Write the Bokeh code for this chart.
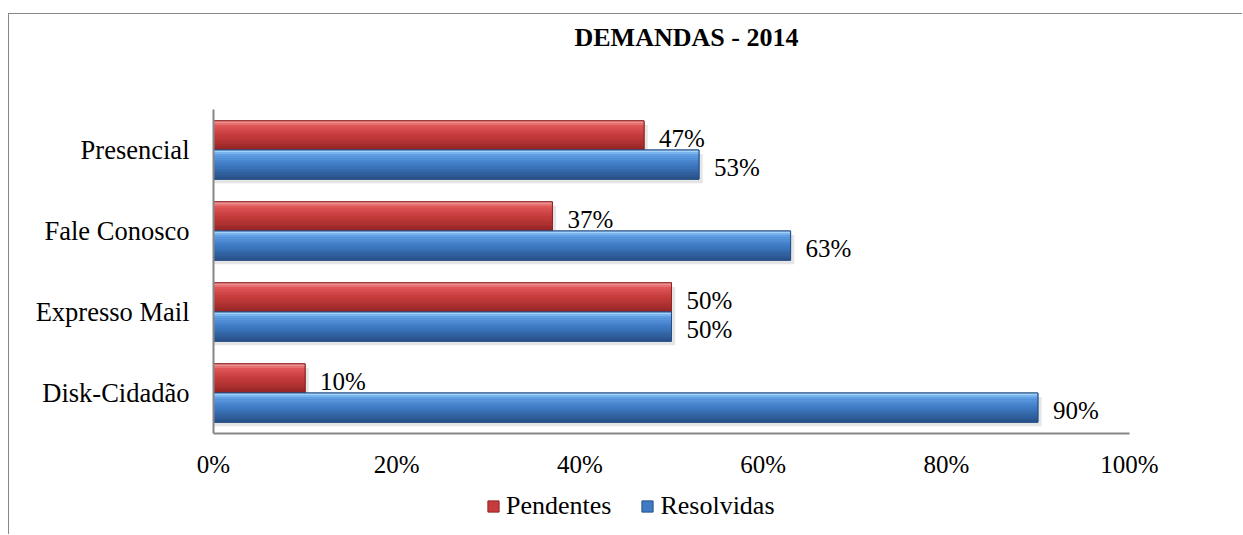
from bokeh.plotting import figure
from bokeh.layouts import column
from bokeh.models import Legend, LegendItem, ColumnDataSource, FixedTicker, Range1d
from bokeh.core.properties import value
from bokeh.embed import file_html
from bokeh.resources import INLINE

# ---- data ----
categories = ["Disk-Cidadão", "Expresso Mail", "Fale Conosco", "Presencial"]
pendentes = [0.10, 0.50, 0.37, 0.47]
resolvidas = [0.90, 0.50, 0.63, 0.53]
series_names = ["Pendentes", "Resolvidas"]
x_ticks = [0, 0.2, 0.4, 0.6, 0.8, 1.0]
x_tick_labels = ["0%", "20%", "40%", "60%", "80%", "100%"]
title_text = "DEMANDAS - 2014"

FONT = "Liberation Serif"
FS = "25px"
BAR_H = 0.36
RED = ["#F29A9A", "#E05858", "#C63C3C", "#962626"]
BLUE = ["#A0D2FA", "#63A3E6", "#3F7BC5", "#28528A"]
RED_EDGE, BLUE_EDGE = "#8E2424", "#264F85"
BORDER = "1px solid #888888"

idx = list(range(len(categories)))

# ---- title strip ----
top = figure(width=1234, height=60, output_backend="svg", toolbar_location=None,
             x_range=Range1d(0, 1), y_range=Range1d(0, 1), min_border=0)
top.styles = {"border-top": BORDER, "border-left": BORDER,
              "margin-left": "8px", "margin-top": "13px"}
top.axis.visible = False
top.grid.visible = False
top.outline_line_color = None
top.text(x=[0], y=[0.617], text=[title_text], x_offset=361,
         text_font=value(FONT), text_font_size="26px", text_font_style="bold",
         text_align="left", text_baseline="middle", text_color="black")

# ---- main chart ----
p = figure(width=1234, height=418, output_backend="svg", toolbar_location=None,
           x_range=Range1d(0, 1), y_range=Range1d(-0.5, len(categories) - 0.5),
           min_border_left=204, min_border_right=114, min_border_top=36, min_border_bottom=58)
p.styles = {"border-left": BORDER, "margin-left": "8px"}
p.outline_line_color = None
p.xgrid.visible = False
p.ygrid.visible = False
p.background_fill_color = "white"
p.border_fill_color = "white"


def shade(c1, c2, t):
    a = [int(c1[i:i + 2], 16) for i in (1, 3, 5)]
    b = [int(c2[i:i + 2], 16) for i in (1, 3, 5)]
    return "#%02x%02x%02x" % tuple(round(x + (y - x) * t) for x, y in zip(a, b))


def bars(yoff, vals, stops, edge):
    ys = [i + yoff for i in idx]
    src = ColumnDataSource(dict(y=ys, right=vals, left=[0] * len(vals)))
    # soft shadow
    p.hbar(y=[v - 0.05 for v in ys], right=[v + 0.004 for v in vals], left=0, height=BAR_H,
           fill_color="#8a8a8a", fill_alpha=0.22, line_color=None)
    p.hbar(y="y", right="right", left="left", height=BAR_H, source=src,
           fill_color=stops[2], line_color=edge, line_width=1)
    n = 14
    for k in range(n):
        t = k / (n - 1)
        if t < 0.12:
            col = shade(stops[0], stops[1], t / 0.12)
        elif t < 0.5:
            col = shade(stops[1], stops[2], (t - 0.12) / 0.38)
        else:
            col = shade(stops[2], stops[3], (t - 0.5) / 0.5)
        yc = [v + BAR_H / 2 - (k + 0.5) * BAR_H / n for v in ys]
        p.hbar(y=yc, right=vals, left=0, height=BAR_H / n * 1.05, fill_color=col, line_color=None)
    p.hbar(y=ys, right=vals, left=0, height=BAR_H, fill_alpha=0, line_color=edge, line_width=1)
    # value labels
    p.text(x=vals, y=[v - 0.035 for v in ys], text=[f"{round(v * 100)}%" for v in vals],
           x_offset=15, text_font=value(FONT), text_font_size=FS,
           text_baseline="middle", text_align="left", text_color="black")


bars(BAR_H / 2, pendentes, RED, RED_EDGE)
bars(-BAR_H / 2, resolvidas, BLUE, BLUE_EDGE)

# axes
p.yaxis.ticker = FixedTicker(ticks=idx)
p.yaxis.major_label_overrides = {i: c for i, c in zip(idx, categories)}
p.xaxis.ticker = FixedTicker(ticks=x_ticks)
p.xaxis.major_label_overrides = {t: l for t, l in zip(x_ticks, x_tick_labels)}
for ax in (p.xaxis[0], p.yaxis[0]):
    ax.major_tick_line_color = None
    ax.minor_tick_line_color = None
    ax.axis_line_color = "#868686"
    ax.axis_line_width = 2
    ax.major_label_text_font = FONT
    ax.major_label_text_font_size = FS
    ax.major_label_text_color = "black"
p.yaxis.major_label_text_font_size = "26.5px"
p.yaxis.major_label_standoff = 18
p.xaxis.major_label_standoff = 11

# ---- legend strip under the chart ----
leg = figure(width=1234, height=43, output_backend="svg", toolbar_location=None,
             x_range=Range1d(0, 1), y_range=Range1d(0, 1), min_border=0)
leg.styles = {"border-left": BORDER, "margin-left": "8px"}
leg.axis.visible = False
leg.grid.visible = False
leg.outline_line_color = None
lr_pend = leg.hbar(y=[0.5], right=[0], left=[0], height=0,
                   fill_color=RED[2], line_color=RED_EDGE)
lr_res = leg.hbar(y=[0.5], right=[0], left=[0], height=0,
                  fill_color=BLUE[2], line_color=BLUE_EDGE)
legend = Legend(items=[LegendItem(label=series_names[0], renderers=[lr_pend]),
                       LegendItem(label=series_names[1], renderers=[lr_res])],
                orientation="horizontal", location=(273, 13),
                label_text_font=FONT, label_text_font_size="26px", label_text_color="black",
                glyph_width=14, glyph_height=14, label_standoff=6, spacing=29,
                padding=0, margin=0, border_line_color=None, background_fill_alpha=0)
leg.add_layout(legend, "center")

open("out.html", "w").write(file_html(column(top, p, leg, spacing=0), INLINE))
